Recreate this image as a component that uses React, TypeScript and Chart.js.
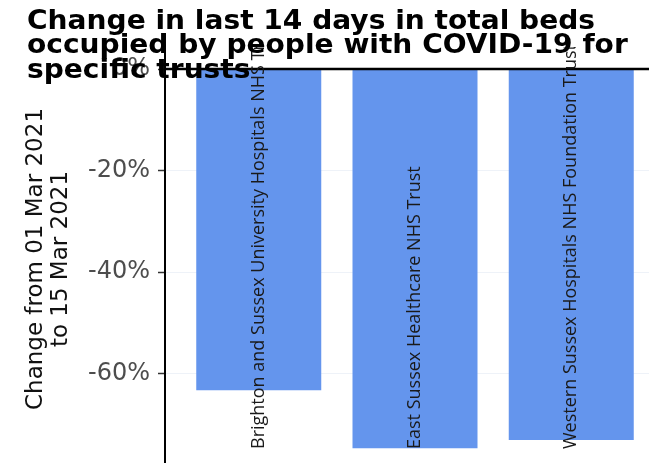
import React, { useEffect, useRef } from 'react';
import { Chart, registerables } from 'chart.js';

Chart.register(...registerables);

// ---- data ----
const titleLines = [
  'Change in last 14 days in total beds',
  'occupied by people with COVID-19 for',
  'specific trusts',
];
const yTitleLines = ['Change from 01 Mar 2021', 'to 15 Mar 2021'];
const trusts = [
  'Brighton and Sussex University Hospitals NHS Trust',
  'East Sussex Healthcare NHS Trust',
  'Western Sussex Hospitals NHS Foundation Trust',
];
const changePct = [-63.3, -74.7, -73.1];
const yTickValues = [0, -20, -40, -60];

const CANVAS_W = 670;
const CANVAS_H = 495;

const overlayPlugin = {
  id: 'overlay',
  afterDatasetsDraw(chart: any) {
    const { ctx, chartArea, scales } = chart;
    const y0 = scales.y.getPixelForValue(0);
    // zero reference line
    ctx.save();
    ctx.strokeStyle = '#000';
    ctx.lineWidth = 2.5;
    ctx.beginPath();
    ctx.moveTo(chartArea.left, y0);
    ctx.lineTo(chartArea.right, y0);
    ctx.stroke();
    ctx.restore();

    // category labels inside bars
    const meta = chart.getDatasetMeta(0);
    ctx.save();
    ctx.beginPath();
    ctx.rect(chartArea.left, chartArea.top - 4, chartArea.right - chartArea.left, chartArea.bottom - chartArea.top + 4);
    ctx.clip();
    meta.data.forEach((bar: any, i: number) => {
      ctx.save();
      ctx.translate(bar.x, 449);
      ctx.rotate(-Math.PI / 2);
      ctx.textAlign = 'left';
      ctx.textBaseline = 'middle';
      ctx.font = '18px "Open Sans"';
      ctx.fillStyle = '#1a1a1a';
      ctx.fillText(trusts[i], 0, 0);
      ctx.restore();
    });
    ctx.restore();
  },
  afterDraw(chart: any) {
    const { ctx } = chart;
    ctx.save();
    ctx.font = 'bold 27px "DejaVu Sans"';
    ctx.fillStyle = '#000';
    ctx.textAlign = 'left';
    ctx.textBaseline = 'alphabetic';
    titleLines.forEach((line, i) => {
      ctx.save();
      ctx.translate(27, 29 + i * 24.3);
      ctx.scale(1.04, 1);
      ctx.fillText(line, 0, 0);
      ctx.restore();
    });
    ctx.restore();
  },
};

export default function App() {
  const canvasRef = useRef<HTMLCanvasElement | null>(null);

  useEffect(() => {
    const canvas = canvasRef.current;
    if (!canvas) return;
    const chart = new Chart(canvas, {
      type: 'bar',
      data: {
        datasets: [
          {
            data: changePct.map((v, i) => ({ x: i + 1, y: v })),
            backgroundColor: '#6495ED',
            borderWidth: 0,
            barPercentage: 0.8,
            categoryPercentage: 1,
          },
        ],
      },
      options: {
        responsive: false,
        animation: false,
        devicePixelRatio: 1,
        layout: { padding: { left: 0, top: 51, right: 5, bottom: 28 } },
        plugins: {
          legend: { display: false },
          tooltip: { enabled: false },
          title: { display: false },
        },
        scales: {
          x: {
            type: 'linear',
            min: 0.4,
            max: 3.6,
            offset: false,
            display: false,
            afterBuildTicks: (s: any) => {
              s.ticks = trusts.map((_, i) => ({ value: i + 1 }));
            },
          },
          y: {
            min: -78.4,
            max: 3.55,
            afterFit: (s: any) => {
              s.width = 165;
            },
            afterBuildTicks: (s: any) => {
              s.ticks = yTickValues.map((v) => ({ value: v }));
            },
            ticks: {
              callback: (v: any) => `${v}%`,
              color: '#4d4d4d',
              font: { family: 'DejaVu Sans', size: 24 },
              padding: 8,
            },
            grid: {
              color: '#eef2f8',
              tickColor: '#333',
              tickLength: 7,
              lineWidth: 1,
              tickWidth: 1.5,
            },
            border: { display: true, color: '#000', width: 2 },
            title: {
              display: true,
              text: yTitleLines,
              color: '#111',
              font: { family: 'DejaVu Sans', size: 23, lineHeight: 1.09 },
              padding: { top: 23, bottom: 0 },
            },
          },
        },
      },
      plugins: [overlayPlugin],
    } as any);
    return () => chart.destroy();
  }, []);

  return (
    <div
      style={{
        position: 'fixed',
        left: 0,
        top: 0,
        width: 649,
        height: 463,
        overflow: 'hidden',
        background: '#fff',
      }}
    >
      <canvas
        ref={canvasRef}
        width={CANVAS_W}
        height={CANVAS_H}
        style={{ display: 'block', width: CANVAS_W, height: CANVAS_H }}
      />
    </div>
  );
}
